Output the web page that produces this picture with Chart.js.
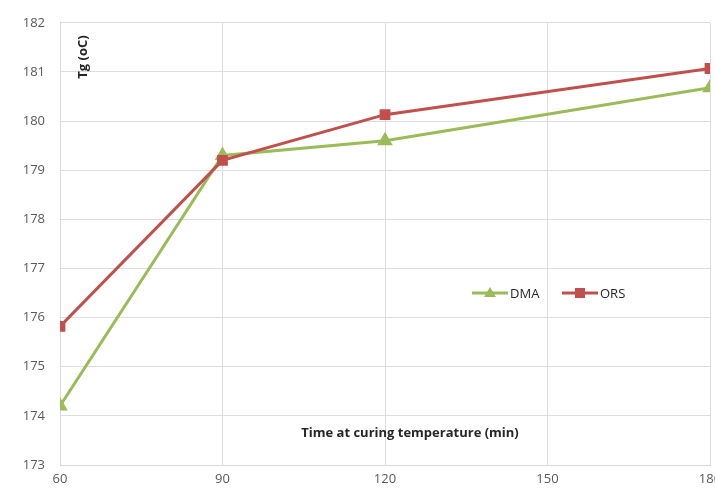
<!DOCTYPE html>
<html><head><meta charset="utf-8">
<script src="https://cdn.jsdelivr.net/npm/chart.js@4"></script>
<style>html,body{margin:0;padding:0;background:#fff;overflow:hidden;width:715px;height:489px}
#wrap{width:740px;height:489px}</style></head>
<body><div id="wrap"><canvas id="c" width="740" height="489"></canvas></div>
<script>
const times = [60, 90, 120, 180];
const dmaValues = [174.2, 179.3, 179.6, 180.68];
const orsValues = [175.82, 179.2, 180.13, 181.07];
const yTicks = [173,174,175,176,177,178,179,180,181,182];
const xTicks = [60, 90, 120, 150, 180];
const yTitle = 'Tg (oC)';
const xTitle = 'Time at curing temperature (min)';
const seriesNames = ['DMA', 'ORS'];

const GREEN = '#9bbb59', RED = '#c0504d';
const FONT = 'Open Sans, Liberation Sans, sans-serif';

const overlay = {
  id: 'overlay',
  afterDraw(chart) {
    const ctx = chart.ctx;
    ctx.save();
    ctx.fillStyle = '#262626';
    ctx.font = 'bold 13px ' + FONT;
    ctx.textAlign = 'center'; ctx.textBaseline = 'middle';
    ctx.fillText(xTitle, 410, 433);
    ctx.translate(83, 57); ctx.rotate(-Math.PI/2);
    ctx.fillText(yTitle, 0, 0);
    ctx.restore();
    // legend
    ctx.save();
    const items = [{n: seriesNames[0], c: GREEN, s: 'tri', x: 472}, {n: seriesNames[1], c: RED, s: 'sq', x: 562}];
    const y = 293;
    items.forEach(it => {
      ctx.strokeStyle = it.c; ctx.lineWidth = 3;
      ctx.beginPath(); ctx.moveTo(it.x, y); ctx.lineTo(it.x + 36, y); ctx.stroke();
      ctx.fillStyle = it.c;
      const cx = it.x + 18;
      if (it.s === 'tri') {
        ctx.beginPath(); ctx.moveTo(cx, y - 6); ctx.lineTo(cx + 6, y + 4); ctx.lineTo(cx - 6, y + 4); ctx.closePath(); ctx.fill();
      } else {
        ctx.fillRect(cx - 5, y - 5, 10, 10);
      }
      ctx.fillStyle = '#262626'; ctx.font = '13px ' + FONT;
      ctx.textAlign = 'left'; ctx.textBaseline = 'middle';
      ctx.fillText(it.n, it.x + 38, y + 1);
    });
    ctx.restore();
  }
};

new Chart(document.getElementById('c'), {
  type: 'line',
  data: {
    datasets: [
      { label: seriesNames[0], order: 1, data: times.map((t, i) => ({x: t, y: dmaValues[i]})),
        borderColor: GREEN, backgroundColor: GREEN, borderWidth: 3,
        pointStyle: 'triangle', pointRadius: 6, pointHoverRadius: 6, tension: 0 },
      { label: seriesNames[1], order: 0, data: times.map((t, i) => ({x: t, y: orsValues[i]})),
        borderColor: RED, backgroundColor: RED, borderWidth: 3,
        pointStyle: 'rect', pointRadius: 5.5, pointHoverRadius: 5.5, tension: 0 }
    ]
  },
  options: {
    responsive: false, animation: false,
    layout: { padding: { left: 0, right: 30, top: 18, bottom: 0 } },
    plugins: { legend: { display: false }, tooltip: { enabled: false } },
    scales: {
      x: {
        type: 'linear', min: 60, max: 180,
        afterBuildTicks: s => { s.ticks = xTicks.map(v => ({value: v})); },
        afterFit: s => { s.height = 24; },
        grid: { color: '#dddddd', lineWidth: 1, drawTicks: false },
        border: { color: '#d9d9d9' },
        ticks: { color: '#595959', font: { family: FONT, size: 13 }, padding: 6, maxRotation: 0, autoSkip: false }
      },
      y: {
        min: 173, max: 182,
        afterBuildTicks: s => { s.ticks = yTicks.map(v => ({value: v})); },
        afterFit: s => { s.width = 60; },
        grid: { color: '#dddddd', lineWidth: 1, drawTicks: false },
        border: { color: '#d9d9d9' },
        ticks: { color: '#595959', font: { family: FONT, size: 13 }, padding: 15 }
      }
    }
  },
  plugins: [overlay]
});
</script></body></html>
